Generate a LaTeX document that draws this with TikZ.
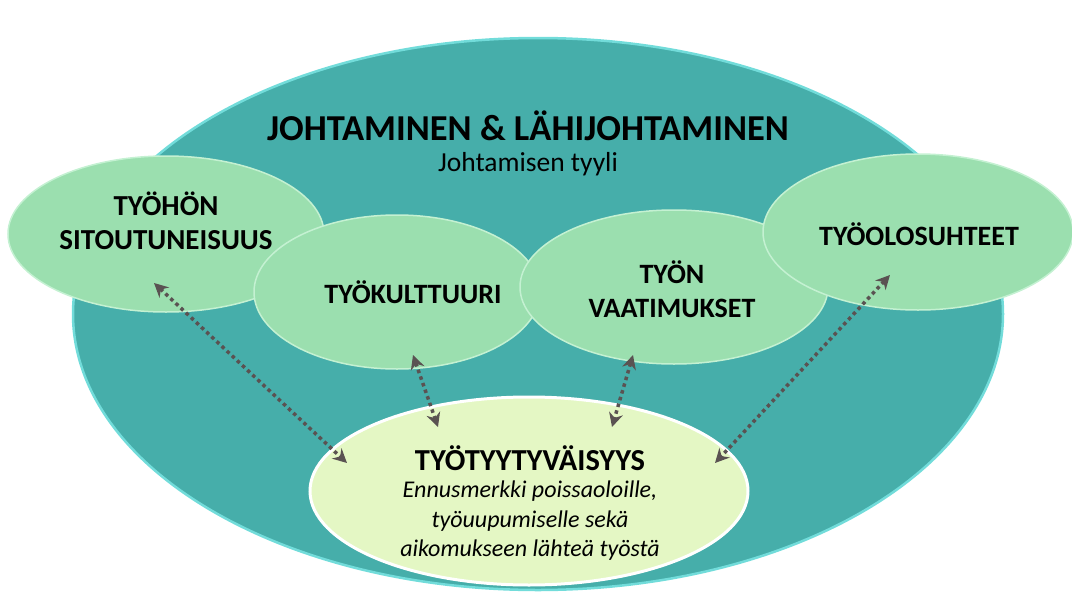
\documentclass[tikz,border=0pt]{standalone}
\usepackage{fontspec}
\setmainfont{Carlito}
\usetikzlibrary{arrows.meta,shapes.geometric}
\definecolor{tealbg}{HTML}{46AEAA}
\definecolor{tealrim}{HTML}{72DCDA}
\definecolor{mint}{HTML}{9BDFAF}
\definecolor{mintrim}{HTML}{C4F1D2}
\definecolor{pale}{HTML}{E4F7C4}
\definecolor{arrowgray}{HTML}{5A5252}

\begin{document}
\begin{tikzpicture}[x=1pt,y=-1pt,
  blob/.style={ellipse,fill=mint,draw=mintrim,line width=1.5pt,inner sep=0pt},
  caps/.style={font=\fontsize{28}{34}\selectfont\bfseries,align=center},
  link/.style={draw=arrowgray,line width=3.5pt,dash pattern=on 3.5pt off 3.5pt,
    {Stealth[length=14pt,width=14pt]}-{Stealth[length=14pt,width=14pt]}}]
  \useasboundingbox (0,0) rectangle (1072,616);
  \node[ellipse,fill=tealbg,draw=tealrim,line width=2.5pt,minimum width=930pt,minimum height=552pt] (johtaminen) at (538,314) {};
  \node[font=\fontsize{36.5}{42}\selectfont\bfseries] (otsikko) at (528,126) {JOHTAMINEN \& LÄHIJOHTAMINEN};
  \node[font=\fontsize{27.5}{32}\selectfont] (tyyli) at (528,164) {Johtamisen tyyli};

  \node[blob,minimum width=316pt,minimum height=156pt] (sitoutuneisuus) at (166,234) {};
  \node[caps,font=\fontsize{29}{34}\selectfont\bfseries] (sitoutuneisuus-t) at (166,221) {TYÖHÖN\\SITOUTUNEISUUS};
  \node[blob,minimum width=286pt,minimum height=154pt] (kulttuuri) at (397,292) {};
  \node[caps] (kulttuuri-t) at (413,292) {TYÖKULTTUURI};
  \node[blob,minimum width=308pt,minimum height=154pt] (vaatimukset) at (674,287) {};
  \node[caps] (vaatimukset-t) at (672,289) {TYÖN\\VAATIMUKSET};
  \node[blob,minimum width=310pt,minimum height=156pt] (olosuhteet) at (918,232) {};
  \node[caps] (olosuhteet-t) at (919,234) {TYÖOLOSUHTEET};

  \node[ellipse,fill=pale,draw=white,line width=3pt,minimum width=438pt,minimum height=188pt] (tyytyvaisyys) at (529,491) {};
  \node[font=\fontsize{30.5}{36}\selectfont\bfseries] (tyytyvaisyys-t) at (530,458) {TYÖTYYTYVÄISYYS};
  \node[font=\fontsize{24}{29.5}\selectfont\itshape,align=center] (ennuste) at (530,521) {Ennusmerkki poissaoloille,\\työuupumiselle sekä\\aikomukseen lähteä työstä};

  \coordinate (sit-p) at (154,283); \coordinate (tyy-1) at (347,463);
  \coordinate (kul-p) at (413,355); \coordinate (tyy-2) at (438,427);
  \coordinate (vaa-p) at (633,355); \coordinate (tyy-3) at (612,427);
  \coordinate (olo-p) at (890,275); \coordinate (tyy-4) at (715,463);
  \draw[link] (sit-p) -- (tyy-1);
  \draw[link] (kul-p) -- (tyy-2);
  \draw[link] (vaa-p) -- (tyy-3);
  \draw[link] (olo-p) -- (tyy-4);
\end{tikzpicture}
\end{document}
